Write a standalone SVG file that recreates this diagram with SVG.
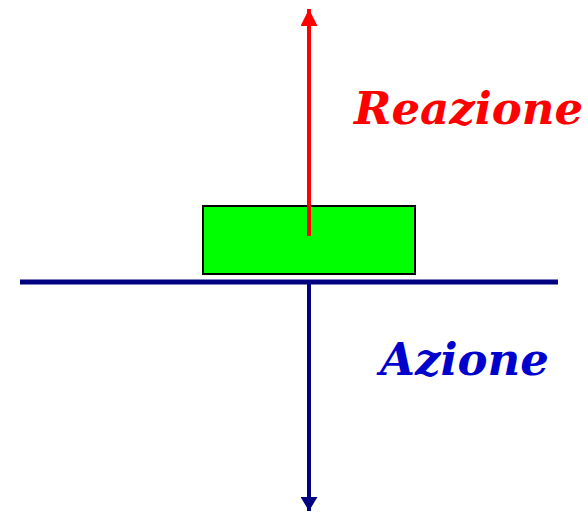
<svg xmlns="http://www.w3.org/2000/svg" width="588" height="512" viewBox="0 0 588 512">
<style>
.lbl{font-family:"DejaVu Serif",serif;font-weight:bold;font-style:italic;font-size:45px}
</style>
<defs>
<marker id="ar" markerUnits="userSpaceOnUse" markerWidth="17" markerHeight="17" viewBox="0 0 17 17" refX="17" refY="8.5" orient="auto"><path d="M0,0 L17,8.5 L0,17 Z" fill="#ff0000"/></marker>
<marker id="ab" markerUnits="userSpaceOnUse" markerWidth="14" markerHeight="17" viewBox="0 0 14 17" refX="14" refY="8.5" orient="auto"><path d="M0,0 L14,8.5 L0,17 Z" fill="#000080"/></marker>
</defs>
<g id="block"><rect x="203" y="206" width="212" height="68" fill="#00ff00" stroke="#000" stroke-width="2"/></g>
<g id="ground"><line x1="20" y1="282" x2="558" y2="282" stroke="#000080" stroke-width="5"/></g>
<g id="connectors">
<line x1="309" y1="236" x2="309" y2="9" stroke="#ff0000" stroke-width="4" marker-end="url(#ar)"/>
<line x1="309" y1="284" x2="309" y2="511" stroke="#000080" stroke-width="4" marker-end="url(#ab)"/>
</g>
<g id="reazione"><text class="lbl" x="354" y="124" fill="#ff0000">Reazione</text></g>
<g id="azione"><text class="lbl" x="380" y="375" fill="#0000cc">Azione</text></g>
</svg>
